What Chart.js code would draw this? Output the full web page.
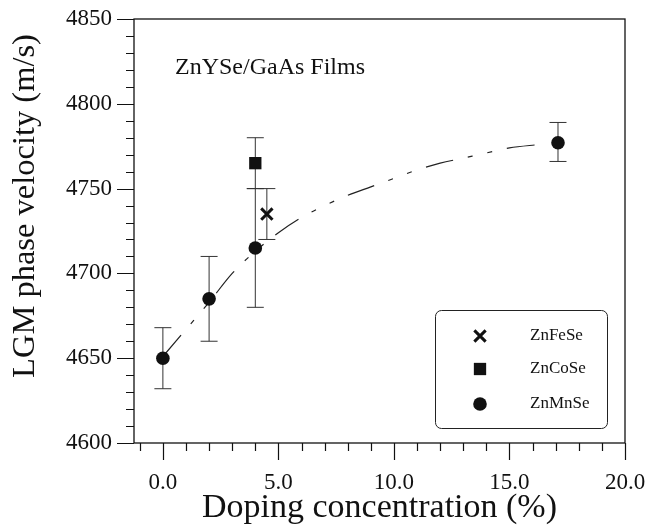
<!DOCTYPE html>
<html>
<head>
<meta charset="utf-8">
<title>LGM phase velocity vs doping</title>
<script src="https://cdn.jsdelivr.net/npm/chart.js@4.4.1/dist/chart.umd.min.js"></script>
<style>
    html, body { margin: 0; padding: 0; background: #fff; }
    #chart { display: block; }
</style>
</head>
<body>
<canvas id="chart" width="647" height="527"></canvas>
<script>
// ==========================================
// DATOS
// ==========================================
const mnX = [0, 2, 4, 17.1];
const mnY = [4650, 4685, 4715, 4777];
const mnLow = [4632, 4660, 4680, 4766];
const mnHigh = [4668, 4710, 4750, 4789];

const coX = [4];
const coY = [4765];
const coLow = [4750];
const coHigh = [4780];

const feX = [4.5];
const feY = [4735];
const feLow = [4720];
const feHigh = [4750];

// curva de ajuste (trazo-punto-punto)
const fitX = [0, 1, 2, 3, 4, 5, 6, 7, 8, 9, 10, 11, 12, 13, 14, 15, 16.3];
const fitY = [4651, 4667, 4683, 4700, 4713, 4724, 4733, 4740, 4746, 4751, 4756, 4761, 4765, 4768, 4771, 4774, 4776];

const seriesNames = ['ZnFeSe', 'ZnCoSe', 'ZnMnSe'];
const xTitle = 'Doping concentration (%)';
const yTitle = 'LGM phase velocity (m/s)';
const plotNote = 'ZnYSe/GaAs Films';

const xMin = -1.25, xMax = 20, xStep = 5;
const yMin = 4600, yMax = 4850, yStep = 50;

const SERIF = '"Liberation Serif", "Times New Roman", serif';
const INK = '#111';

const toPoints = (xs, ys) => xs.map((x, i) => ({ x: x, y: ys[i] }));

// ==========================================
// PLUGINS
// ==========================================
const errorBars = {
    id: 'errorBars',
    beforeDatasetsDraw(chart) {
        const { ctx, scales: { x, y } } = chart;
        ctx.save();
        ctx.strokeStyle = '#333';
        ctx.lineWidth = 1;
        chart.data.datasets.forEach(ds => {
            if (!ds.errLow) return;
            ds.data.forEach((p, i) => {
                const px = x.getPixelForValue(p.x);
                const lo = y.getPixelForValue(ds.errLow[i]);
                const hi = y.getPixelForValue(ds.errHigh[i]);
                const cap = 8.5;
                ctx.beginPath();
                ctx.moveTo(px, lo); ctx.lineTo(px, hi);
                ctx.moveTo(px - cap, lo); ctx.lineTo(px + cap, lo);
                ctx.moveTo(px - cap, hi); ctx.lineTo(px + cap, hi);
                ctx.stroke();
            });
        });
        ctx.restore();
    }
};

const frameAndText = {
    id: 'frameAndText',
    afterDraw(chart) {
        const { ctx, chartArea: a, scales: { x, y } } = chart;
        ctx.save();
        ctx.strokeStyle = INK;
        ctx.lineWidth = 1.3;
        ctx.strokeRect(a.left, a.top, a.right - a.left, a.bottom - a.top);

        // marcas de ejes (mayores largas, menores cortas)
        ctx.lineWidth = 1.2;
        ctx.beginPath();
        for (let v = yMin; v <= yMax; v += 10) {
            const py = Math.round(y.getPixelForValue(v)) + 0.5;
            const len = v % yStep === 0 ? 17 : 8;
            ctx.moveTo(a.left - len, py); ctx.lineTo(a.left, py);
        }
        for (let v = Math.ceil(xMin); v <= xMax; v += 1) {
            const px = Math.round(x.getPixelForValue(v)) + 0.5;
            const len = v % xStep === 0 ? 17 : 8;
            ctx.moveTo(px, a.bottom); ctx.lineTo(px, a.bottom + len);
        }
        ctx.stroke();

        // títulos de ejes
        ctx.fillStyle = INK;
        ctx.font = '34px ' + SERIF;
        ctx.textAlign = 'center';
        ctx.textBaseline = 'alphabetic';
        ctx.fillText(xTitle, (a.left + a.right) / 2, 517);
        ctx.save();
        ctx.font = '32.5px ' + SERIF;
        ctx.translate(34, 206);
        ctx.rotate(-Math.PI / 2);
        ctx.fillText(yTitle, 0, 0);
        ctx.restore();

        // nota dentro del gráfico
        ctx.font = '24px ' + SERIF;
        ctx.textAlign = 'left';
        ctx.fillText(plotNote, 175, 74);

        // leyenda con recuadro redondeado
        const bx = 435, by = 310, bw = 172, bh = 118;
        ctx.lineWidth = 1;
        ctx.strokeStyle = '#222';
        ctx.beginPath();
        ctx.roundRect(bx + 0.5, by + 0.5, bw, bh, 6);
        ctx.stroke();
        const rows = [336, 369, 404];
        ctx.font = '17px ' + SERIF;
        ctx.textBaseline = 'middle';
        seriesNames.forEach((name, i) => {
            const ds = chart.data.datasets[i];
            ctx.fillStyle = INK;
            ctx.strokeStyle = INK;
            ctx.lineWidth = ds.borderWidth;
            Chart.helpers.drawPoint(ctx, {
                pointStyle: ds.pointStyle,
                radius: ds.pointRadius,
                rotation: 0,
                borderWidth: ds.borderWidth
            }, 480, rows[i]);
            ctx.fillStyle = INK;
            ctx.fillText(name, 530, rows[i]);
        });
        ctx.restore();
    }
};

// ==========================================
// GRÁFICO
// ==========================================
new Chart(document.getElementById('chart'), {
    type: 'scatter',
    data: {
        datasets: [
            {
                label: seriesNames[0],
                data: toPoints(feX, feY),
                errLow: feLow, errHigh: feHigh,
                pointStyle: 'crossRot', pointRadius: 8, borderWidth: 3,
                borderColor: INK, backgroundColor: INK
            },
            {
                label: seriesNames[1],
                data: toPoints(coX, coY),
                errLow: coLow, errHigh: coHigh,
                pointStyle: 'rect', pointRadius: 8.7, borderWidth: 0,
                borderColor: INK, backgroundColor: INK
            },
            {
                label: seriesNames[2],
                data: toPoints(mnX, mnY),
                errLow: mnLow, errHigh: mnHigh,
                pointStyle: 'circle', pointRadius: 6.8, borderWidth: 0,
                borderColor: INK, backgroundColor: INK
            },
            {
                label: 'fit',
                data: toPoints(fitX, fitY),
                showLine: true,
                pointRadius: 0,
                borderColor: '#222',
                borderWidth: 1.2,
                borderDash: [28, 15, 5, 15, 5, 15],
                cubicInterpolationMode: 'monotone',
                order: 5
            }
        ]
    },
    options: {
        responsive: false,
        animation: false,
        layout: { padding: { left: 0, top: 19, right: 22, bottom: 0 } },
        plugins: {
            legend: { display: false },
            tooltip: { enabled: false }
        },
        scales: {
            x: {
                type: 'linear',
                min: xMin, max: xMax,
                grid: { display: false, drawTicks: false },
                border: { display: false },
                ticks: {
                    stepSize: xStep,
                    includeBounds: false,
                    padding: 26,
                    color: INK,
                    font: { family: SERIF, size: 23 },
                    callback: v => v.toFixed(1)
                },
                afterFit: s => {
                    s.height = 84;
                    s.paddingLeft = 0;
                    s.paddingRight = 0;
                }
            },
            y: {
                type: 'linear',
                min: yMin, max: yMax,
                grid: { display: false, drawTicks: false },
                border: { display: false },
                ticks: {
                    stepSize: yStep,
                    padding: 22,
                    color: INK,
                    font: { family: SERIF, size: 23 },
                    callback: v => String(v)
                },
                afterFit: s => {
                    s.width = 134;
                    s.paddingTop = 0;
                    s.paddingBottom = 0;
                }
            }
        }
    },
    plugins: [errorBars, frameAndText]
});
</script>
</body>
</html>
